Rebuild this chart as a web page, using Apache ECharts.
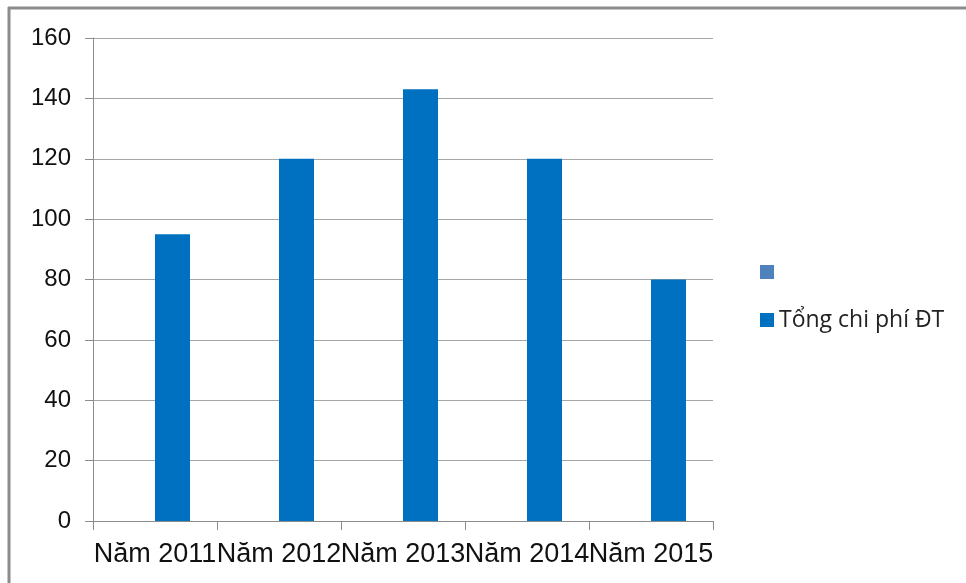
<!DOCTYPE html>
<html>
<head>
<meta charset="utf-8">
<script src="https://cdn.jsdelivr.net/npm/echarts@6/dist/echarts.min.js"></script>
<style>
  html, body { margin: 0; padding: 0; background: #fff; }
  #chart { width: 966px; height: 583px; }
</style>
</head>
<body>
<div id="chart"></div>
<script>
  var categories = ["Năm 2011", "Năm 2012", "Năm 2013", "Năm 2014", "Năm 2015"];
  var tongChiPhi = [95, 120, 143, 120, 80];
  var blankSeries = [null, null, null, null, null];
  var seriesName = "Tổng chi phí ĐT";
  var blankName = " ";

  var myChart = echarts.init(document.getElementById("chart"));

  var option = {
    animation: false,
    // khung xám phía trên và bên trái
    graphic: [
      { type: "line", shape: { x1: 8, y1: 8, x2: 966, y2: 8 }, style: { stroke: "#8c8c8c", lineWidth: 3 } },
      { type: "line", shape: { x1: 9, y1: 7, x2: 9, y2: 583 }, style: { stroke: "#8c8c8c", lineWidth: 3 } }
    ],
    grid: {
      left: 93,
      top: 38,
      right: 253,
      bottom: 62,
      containLabel: false
    },
    legend: {
      orient: "vertical",
      left: 755,
      top: 254,
      itemWidth: 14,
      itemHeight: 14,
      itemGap: 22,
      textStyle: { fontFamily: "Open Sans", fontSize: 23, color: "#222", lineHeight: 26 },
      data: [
        { name: blankName, icon: "rect", itemStyle: { color: "#4f81bd" } },
        { name: seriesName, icon: "rect", itemStyle: { color: "#0070c0" } }
      ]
    },
    xAxis: {
      type: "category",
      data: categories,
      axisLine: { lineStyle: { color: "#8c8c8c", width: 1 } },
      axisTick: { show: true, length: 9, lineStyle: { color: "#8c8c8c" } },
      axisLabel: {
        interval: 0,
        margin: 20,
        color: "#111",
        fontFamily: "Liberation Sans",
        fontSize: 27
      }
    },
    yAxis: {
      type: "value",
      min: 0,
      max: 160,
      interval: 20,
      axisLine: { show: true, lineStyle: { color: "#8c8c8c", width: 1 } },
      axisTick: { show: true, length: 8, lineStyle: { color: "#8c8c8c" } },
      axisLabel: {
        margin: 22,
        color: "#111",
        fontFamily: "Liberation Sans",
        fontSize: 24
      },
      splitLine: { lineStyle: { color: "#a6a6a6", width: 1 } }
    },
    series: [
      {
        name: blankName,
        type: "bar",
        barWidth: 35,
        barGap: 0,
        data: blankSeries,
        itemStyle: { color: "#4f81bd" }
      },
      {
        name: seriesName,
        type: "bar",
        barWidth: 35,
        barGap: 0,
        data: tongChiPhi,
        itemStyle: { color: "#0070c0" }
      }
    ]
  };

  myChart.setOption(option);
</script>
</body>
</html>
